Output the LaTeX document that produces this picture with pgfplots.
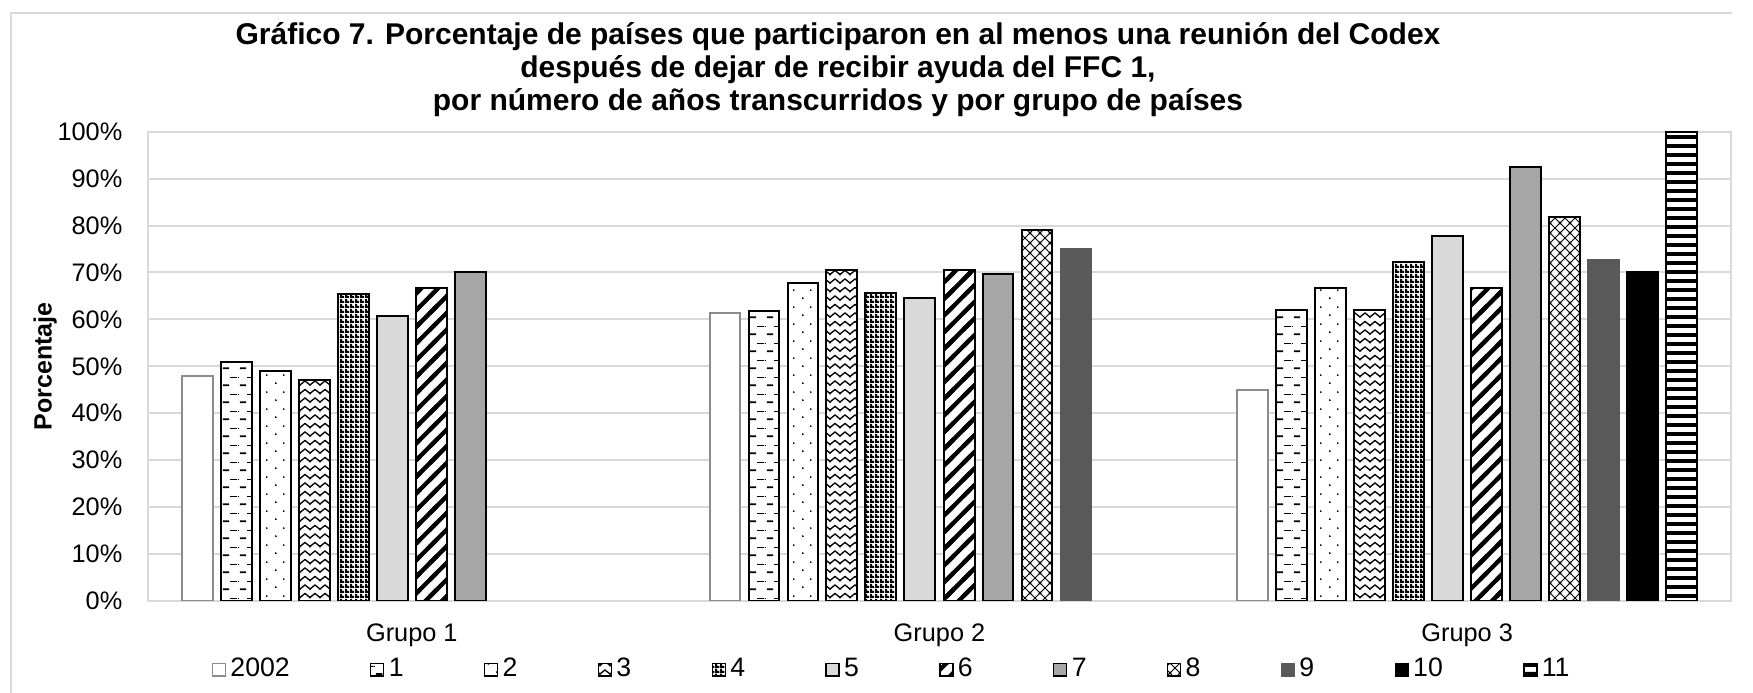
\documentclass[border=0pt]{standalone}
\usepackage{fontspec}
\setmainfont{Liberation Sans}
\usepackage{pgfplots}
\pgfplotsset{compat=1.18}
\usetikzlibrary{patterns,calc}
\definecolor{g5}{HTML}{D9D9D9}
\definecolor{g7}{HTML}{A6A6A6}
\definecolor{g9}{HTML}{595959}
\definecolor{gridc}{HTML}{D9D9D9}
\definecolor{o0}{HTML}{8C8C8C}

\pgfdeclarepatternformonly{hdash}{\pgfqpoint{0pt}{0pt}}{\pgfqpoint{5.1pt}{5.1pt}}{\pgfqpoint{5.1pt}{5.1pt}}{%
 \pgfpathrectangle{\pgfqpoint{0.6pt}{0.3pt}}{\pgfqpoint{2.0pt}{0.55pt}}%
 \pgfpathrectangle{\pgfqpoint{2.9pt}{2.85pt}}{\pgfqpoint{2.2pt}{0.25pt}}%
 \pgfpathrectangle{\pgfqpoint{0pt}{2.85pt}}{\pgfqpoint{0.3pt}{0.25pt}}%
 \pgfusepath{fill}}
\pgfdeclarepatternformonly{sdots}{\pgfqpoint{0pt}{0pt}}{\pgfqpoint{5.1pt}{5.1pt}}{\pgfqpoint{5.1pt}{5.1pt}}{%
 \pgfpathcircle{\pgfqpoint{1.2pt}{1.2pt}}{0.32pt}%
 \pgfpathcircle{\pgfqpoint{3.75pt}{3.75pt}}{0.32pt}%
 \pgfusepath{fill}}
\pgfdeclarepatternformonly{zigzag}{\pgfqpoint{-0.2pt}{0pt}}{\pgfqpoint{3.2pt}{2.55pt}}{\pgfqpoint{3pt}{2.55pt}}{%
 \pgfsetlinewidth{0.4pt}%
 \pgfpathmoveto{\pgfqpoint{-0.2pt}{0.45pt}}\pgfpathlineto{\pgfqpoint{1.5pt}{1.8pt}}\pgfpathlineto{\pgfqpoint{3.2pt}{0.45pt}}%
 \pgfusepath{stroke}}
\pgfdeclarepatternformonly{checker}{\pgfqpoint{0pt}{0pt}}{\pgfqpoint{1.5pt}{1.5pt}}{\pgfqpoint{1.5pt}{1.5pt}}{%
 \pgfpathrectangle{\pgfqpoint{0pt}{0pt}}{\pgfqpoint{1.5pt}{0.75pt}}%
 \pgfpathrectangle{\pgfqpoint{0pt}{0.75pt}}{\pgfqpoint{0.75pt}{0.75pt}}%
 \pgfusepath{fill}}
\pgfdeclarepatternformonly{wdiag}{\pgfqpoint{-1.5pt}{-1.5pt}}{\pgfqpoint{6.5pt}{6.5pt}}{\pgfqpoint{5pt}{5pt}}{%
 \pgfsetlinewidth{1.3pt}%
 \pgfpathmoveto{\pgfqpoint{-1.5pt}{-1.5pt}}\pgfpathlineto{\pgfqpoint{6.5pt}{6.5pt}}%
 \pgfusepath{stroke}}
\pgfdeclarepatternformonly{dcross}{\pgfqpoint{-0.5pt}{-0.5pt}}{\pgfqpoint{3.5pt}{3.5pt}}{\pgfqpoint{3pt}{3pt}}{%
 \pgfsetlinewidth{0.3pt}%
 \pgfpathmoveto{\pgfqpoint{-0.5pt}{-0.5pt}}\pgfpathlineto{\pgfqpoint{3.5pt}{3.5pt}}%
 \pgfpathmoveto{\pgfqpoint{-0.5pt}{3.5pt}}\pgfpathlineto{\pgfqpoint{3.5pt}{-0.5pt}}%
 \pgfusepath{stroke}}
\pgfdeclarepatternformonly{hstripe}{\pgfqpoint{0pt}{0pt}}{\pgfqpoint{1pt}{2.6pt}}{\pgfqpoint{1pt}{2.6pt}}{%
 \pgfpathrectangle{\pgfqpoint{0pt}{0pt}}{\pgfqpoint{1pt}{1.2pt}}\pgfusepath{fill}}

\pgfplotsset{
 leg/.style={legend image code/.code={\draw[##1, line width=0.4pt] (0pt,-1.9pt) rectangle (3.9pt,1.9pt);}},
 bb/.style={ybar, bar width=0.0587, bar shift=#1, line width=0.6pt},
}

\begin{document}
\begin{tikzpicture}
\begin{axis}[
 scale only axis, width=474.9pt, height=140.8pt,
 xmin=-0.5, xmax=2.5, ymin=0, ymax=100,
 xtick={0,1,2}, xticklabels={Grupo 1,Grupo 2,Grupo 3},
 ytick={0,10,...,100}, yticklabel={\pgfmathprintnumber{\tick}\%},
 /pgf/number format/assume math mode=true,
 major tick length=0pt,
 ymajorgrids, grid style={color=gridc, line width=0.6pt},
 axis line style={gridc, line width=0.6pt},
 tick label style={font=\fontsize{7.6}{9}\selectfont, black},
 yticklabel style={anchor=east, inner sep=0pt, xshift=-7.5pt},
 xticklabel style={anchor=north, inner sep=0pt, yshift=-6.6pt},
 ylabel={Porcentaje},
 every axis y label/.style={at={(axis description cs:-0.065,0.5)}, rotate=90, anchor=center, font=\fontsize{7.5}{9}\selectfont\bfseries},
 legend columns=12,
 legend style={at={(axis description cs:0.4697,-0.1465)}, anchor=center, draw=none, fill=none, font=\fontsize{8}{9}\selectfont,
   /tikz/every even column/.append style={column sep=23.6pt}, /tikz/every odd column/.append style={column sep=0.8pt}, nodes={inner sep=0.5pt}},
]
\addplot[bb=-0.4065, fill=white, draw=o0, leg] coordinates {(0,47.9) (1,61.3) (2,44.9)};
\addplot[bb=-0.3326, fill=white, draw=black, postaction={pattern=hdash}, leg] coordinates {(0,50.9) (1,61.8) (2,62.0)};
\addplot[bb=-0.2587, fill=white, draw=black, postaction={pattern=sdots}, leg] coordinates {(0,49.0) (1,67.7) (2,66.7)};
\addplot[bb=-0.1848, fill=white, draw=black, postaction={pattern=zigzag}, leg] coordinates {(0,47.1) (1,70.6) (2,62.0)};
\addplot[bb=-0.1109, fill=white, draw=black, postaction={pattern=checker}, leg] coordinates {(0,65.4) (1,65.6) (2,72.3)};
\addplot[bb=-0.0370, fill=g5, draw=black, leg] coordinates {(0,60.8) (1,64.6) (2,77.8)};
\addplot[bb=0.0370, fill=white, draw=black, postaction={pattern=wdiag}, leg] coordinates {(0,66.7) (1,70.5) (2,66.7)};
\addplot[bb=0.1109, fill=g7, draw=black, leg] coordinates {(0,70.0) (1,69.6) (2,92.4)};
\addplot[bb=0.1848, fill=white, draw=black, postaction={pattern=dcross}, leg] coordinates {(1,79.0) (2,81.9)};
\addplot[bb=0.2587, fill=g9, draw=g9, leg] coordinates {(1,75.0) (2,72.6)};
\addplot[bb=0.3326, fill=black, draw=black, leg] coordinates {(2,70.0)};
\addplot[bb=0.4065, fill=white, draw=black, postaction={pattern=hstripe}, leg] coordinates {(2,100)};
\legend{2002,1,2,3,4,5,6,7,8,9,10,11}
\coordinate (bl) at (rel axis cs:0,0);
\end{axis}
\pgfresetboundingbox
\path[use as bounding box] ($(bl)+(-44.4pt,-27.6pt)$) rectangle ++(525.9pt,207.9pt);
\draw[gridc, line width=0.6pt] ($(bl)+(-41.1pt,-27.6pt)$) -- ++(0,204pt) -- ++(516.3pt,0);
\node[font=\fontsize{9}{9.9}\selectfont\bfseries, align=center] at ($(bl)+(207pt,159.3pt)$) {Gráfico 7. Porcentaje de países que participaron en al menos una reunión del Codex\\ después de dejar de recibir ayuda del FFC 1,\\ por número de años transcurridos y por grupo de países};
\end{tikzpicture}
\end{document}
